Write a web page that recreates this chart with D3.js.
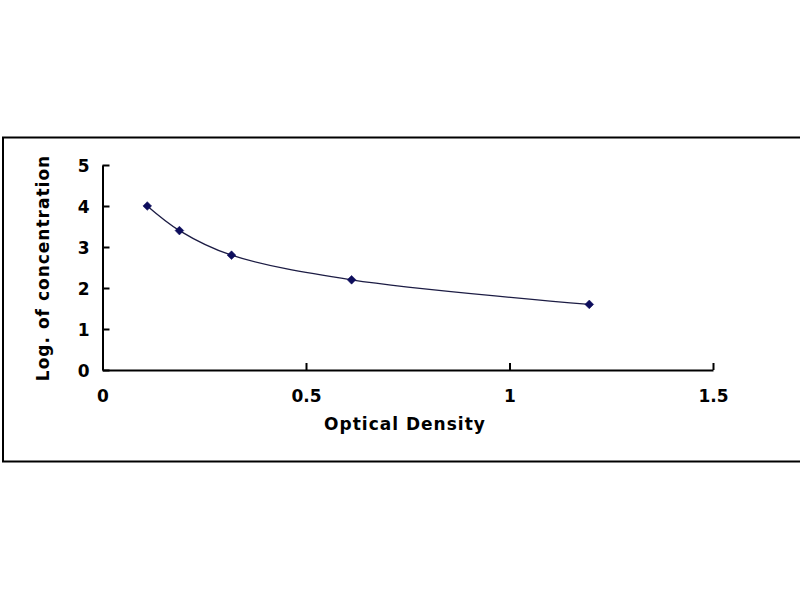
<!DOCTYPE html>
<html>
<head>
<meta charset="utf-8">
<script src="https://cdn.jsdelivr.net/npm/d3@7"></script>
<style>
    body { margin: 0; background: #fff; }
    svg text { font-family: "DejaVu Sans", Arial, sans-serif; font-weight: bold; fill: #000; }
</style>
</head>
<body>
<svg id="chart" width="800" height="600"></svg>
<script>
// Standard curve points
const opticalDensity = [0.11, 0.189, 0.317, 0.612, 1.196];
const logConcentration = [4.0, 3.4, 2.8, 2.2, 1.6];

// Tick values
const xTicks = [0, 0.5, 1, 1.5];
const yTicks = [0, 1, 2, 3, 4, 5];

// Titles
const xTitle = "Optical Density";
const yTitle = "Log. of concentration";

let svg = d3.select("#chart");

// Outer chart frame
svg.append("rect")
    .attr("x", 3)
    .attr("y", 137.5)
    .attr("width", 802)
    .attr("height", 324)
    .attr("fill", "none")
    .attr("stroke", "#000")
    .attr("stroke-width", 2);

let x = d3.scaleLinear().domain([0, 1.5]).range([102.5, 713]);
let y = d3.scaleLinear().domain([0, 5]).range([370, 165]);

// x-axis, ticks pointing into the plot
let gx = svg.append("g")
    .attr("transform", "translate(0," + y(0) + ")")
    .call(d3.axisBottom(x)
        .tickValues(xTicks)
        .tickFormat(d3.format("~g"))
        .tickSizeInner(-7)
        .tickSizeOuter(0)
        .tickPadding(20));

// y-axis, ticks pointing into the plot
let gy = svg.append("g")
    .attr("transform", "translate(" + x(0) + ",0)")
    .call(d3.axisLeft(y)
        .tickValues(yTicks)
        .tickFormat(d3.format("d"))
        .tickSizeInner(-7)
        .tickSizeOuter(0)
        .tickPadding(13));

[gx, gy].forEach(function (g) {
    g.attr("font-size", null).attr("font-family", null);
    g.select(".domain").attr("stroke", "#000").attr("stroke-width", 2);
    g.selectAll(".tick line").attr("stroke", "#000").attr("stroke-width", 2);
    g.selectAll(".tick text")
        .style("font-size", "17px")
        .attr("fill", "#000");
});
gy.selectAll(".tick text").attr("dy", "0.36em");

// Axis titles
svg.append("text")
    .attr("x", 405)
    .attr("y", 430)
    .attr("text-anchor", "middle")
    .style("font-size", "17px")
    .style("letter-spacing", "1px")
    .text(xTitle);

svg.append("text")
    .attr("transform", "translate(49,268) rotate(-90)")
    .attr("text-anchor", "middle")
    .style("font-size", "17px")
    .style("letter-spacing", "1px")
    .text(yTitle);

// Smoothed line through the points
let pts = opticalDensity.map(function (d, i) { return [d, logConcentration[i]]; });

let line = d3.line()
    .x(function (d) { return x(d[0]); })
    .y(function (d) { return y(d[1]); })
    .curve(d3.curveCatmullRom);

svg.append("path")
    .datum(pts)
    .attr("d", line)
    .attr("fill", "none")
    .attr("stroke", "#1c1c44")
    .attr("stroke-width", 1.3);

// Diamond markers
svg.selectAll(".marker")
    .data(pts)
    .enter()
    .append("path")
    .attr("class", "marker")
    .attr("d", d3.symbol().type(d3.symbolSquare).size(38))
    .attr("transform", function (d) {
        return "translate(" + x(d[0]) + "," + y(d[1]) + ") rotate(45)";
    })
    .attr("fill", "#0d0d5c")
    .attr("stroke", "#0d0d5c")
    .attr("stroke-width", 0.5);
</script>
</body>
</html>
